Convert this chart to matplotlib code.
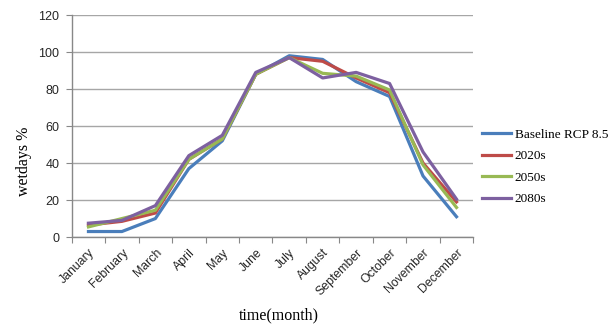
import matplotlib
matplotlib.use("Agg")
import matplotlib.pyplot as plt

months = ["January", "February", "March", "April", "May", "June", "July",
          "August", "September", "October", "November", "December"]
baseline = [3, 3, 10, 37, 52, 88, 98, 96, 84, 76, 33, 11]
s2020 = [6.5, 8.5, 13, 42, 53, 88, 97, 95, 86, 78, 40, 19]
s2050 = [5.5, 10, 14.5, 42, 53, 88, 97, 88.5, 87, 79.5, 39, 16]
s2080 = [7.5, 9, 17, 44, 55, 89, 97, 86, 89, 83, 46, 20.5]
series_names = ["Baseline RCP 8.5", "2020s", "2050s", "2080s"]
y_ticks = [0, 20, 40, 60, 80, 100, 120]

colors = ["#4A7EBB", "#BE4B48", "#98B954", "#7D60A0"]

fig = plt.figure(figsize=(6.13, 3.27), dpi=100)
ax = fig.add_axes([0.117, 0.275, 0.655, 0.679])

x = list(range(len(months)))
for vals, name, c in zip([baseline, s2020, s2050, s2080], series_names, colors):
    ax.plot(x, vals, color=c, lw=2.3, label=name, solid_joinstyle="round")

ax.set_xlim(-0.5, len(months) - 0.5)
ax.set_ylim(0, 120)
ax.set_yticks(y_ticks)
ax.yaxis.grid(True, color="#A6A6A6", lw=1.0)
ax.set_axisbelow(True)

ax.set_xticks([i - 0.5 for i in range(len(months) + 1)], minor=False)
ax.set_xticklabels([])
ax.set_xticks(x, minor=True)
ax.set_xticklabels(months, minor=True, rotation=45, ha="right", va="top",
                   rotation_mode="anchor", fontsize=8.8, family="Liberation Sans",
                   color="#262626")
ax.tick_params(axis="x", which="minor", length=0, pad=7)
ax.tick_params(axis="x", which="major", length=4, color="#888888", direction="out")
ax.tick_params(axis="y", length=4, color="#888888", direction="out",
               labelsize=9, labelcolor="#262626", pad=5)
for lbl in ax.get_yticklabels():
    lbl.set_family("Liberation Sans")

for side in ("top", "right"):
    ax.spines[side].set_visible(False)
for side in ("left", "bottom"):
    ax.spines[side].set_color("#888888")
    ax.spines[side].set_linewidth(1.0)

ax.set_ylabel("wetdays %", family="Liberation Serif", fontsize=11.5)
ax.yaxis.set_label_coords(-0.1, 0.34)
fig.text(0.455, 0.01, "time(month)", family="Liberation Serif", fontsize=11.5,
         ha="center", va="bottom")

leg = ax.legend(loc="upper left", bbox_to_anchor=(1.0, 0.53), frameon=False,
                prop={"family": "Liberation Serif", "size": 9.5},
                handlelength=2.2, handletextpad=0.25, labelspacing=0.7,
                borderaxespad=0.3)

fig.savefig("out.png", dpi=100)
